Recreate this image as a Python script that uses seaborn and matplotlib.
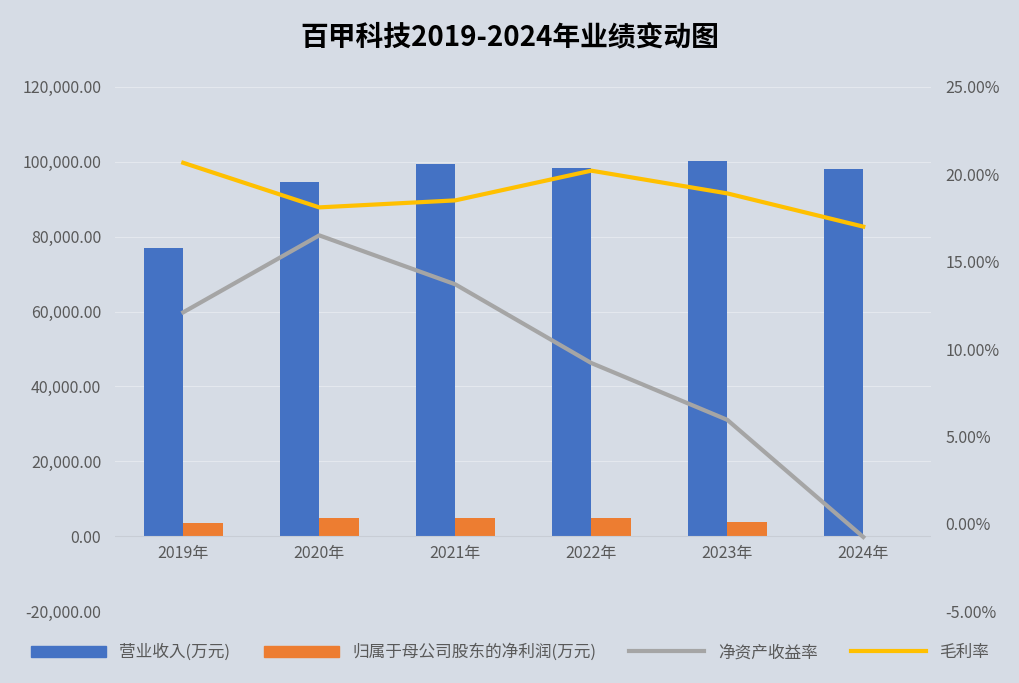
import matplotlib
matplotlib.use("Agg")
import matplotlib.pyplot as plt
import matplotlib.ticker as mticker
import matplotlib.transforms as mtransforms
from matplotlib.lines import Line2D
from matplotlib.patches import Patch
import numpy as np
import pandas as pd
import seaborn as sns

plt.rcParams["font.family"] = "sans-serif"
plt.rcParams["font.sans-serif"] = ["Noto Sans CJK SC", "Noto Sans CJK JP", "Noto Sans CJK TC",
                                   "Noto Sans CJK KR", "DejaVu Sans"]
plt.rcParams["axes.unicode_minus"] = False

years = ["2019年", "2020年", "2021年", "2022年", "2023年", "2024年"]
revenue = [77000, 94600, 99400, 98300, 100200, 98100]
net_profit = [3470, 4800, 4800, 4800, 3740, -300]
roe = [12.1, 16.5, 13.7, 9.2, 5.95, -0.75]
gross_margin = [20.65, 18.1, 18.5, 20.2, 18.9, 17.0]

BG = "#D6DCE5"
BLUE = "#4472C4"
ORANGE = "#ED7D31"
GREY = "#A5A5A5"
GOLD = "#FFC000"
TXT = "#595959"

fig = plt.figure(figsize=(10.2, 6.83), dpi=100, facecolor=BG)
ax = fig.add_axes([0.113, 0.105, 0.80, 0.768], facecolor=BG)

df = pd.DataFrame({
    "year": years * 2,
    "value": revenue + net_profit,
    "series": ["营业收入(万元)"] * 6 + ["归属于母公司股东的净利润(万元)"] * 6,
})
sns.barplot(data=df, x="year", y="value", hue="series", palette=[BLUE, ORANGE],
            width=0.58, ax=ax, legend=False, saturation=1)
ax.set_ylim(-20000, 120000)
ax.yaxis.set_major_locator(mticker.MultipleLocator(20000))
ax.yaxis.set_major_formatter(mticker.FuncFormatter(lambda v, _: f"{v:,.2f}"))
ax.grid(axis="y", color="#E4E8EE", linewidth=0.8)
ax.set_axisbelow(True)
ax.set_xlabel("")
ax.set_ylabel("")
for s in ax.spines.values():
    s.set_visible(False)
ax.axhline(0, color="#C8CDD5", linewidth=0.8)
ax.tick_params(length=0, colors=TXT, labelsize=11.5, pad=10)
ax.tick_params(axis="x", pad=0)
ax.set_xticks(range(6))
ax.set_xticklabels(years)
# put the category labels just under the zero line
shift = mtransforms.ScaledTranslation(0, 0.66, fig.dpi_scale_trans)
for lbl in ax.get_xticklabels():
    lbl.set_transform(lbl.get_transform() + shift)

ax2 = ax.twinx()
x = np.arange(6)
sns.lineplot(x=x, y=roe, color=GREY, linewidth=3, ax=ax2)
sns.lineplot(x=x, y=gross_margin, color=GOLD, linewidth=3, ax=ax2)
ax2.set_ylim(-5, 25)
ax2.yaxis.set_major_locator(mticker.MultipleLocator(5))
ax2.yaxis.set_major_formatter(mticker.FuncFormatter(lambda v, _: f"{v:.2f}%"))
for s in ax2.spines.values():
    s.set_visible(False)
ax2.tick_params(length=0, colors=TXT, labelsize=11.5, pad=10)
ax.set_xlim(-0.5, 5.5)

fig.suptitle("百甲科技2019-2024年业绩变动图", fontsize=20, fontweight="bold", y=0.965, color="black")

handles = [
    Patch(color=BLUE, label="营业收入(万元)"),
    Patch(color=ORANGE, label="归属于母公司股东的净利润(万元)"),
    Line2D([], [], color=GREY, lw=3, label="净资产收益率"),
    Line2D([], [], color=GOLD, lw=3, label="毛利率"),
]
fig.legend(handles=handles, loc="lower center", ncol=4, frameon=False,
           bbox_to_anchor=(0.5, 0.01), fontsize=12, labelcolor=TXT,
           handlelength=4.5, columnspacing=2.0, handleheight=0.7)

fig.savefig("out.png", dpi=100, facecolor=BG)
